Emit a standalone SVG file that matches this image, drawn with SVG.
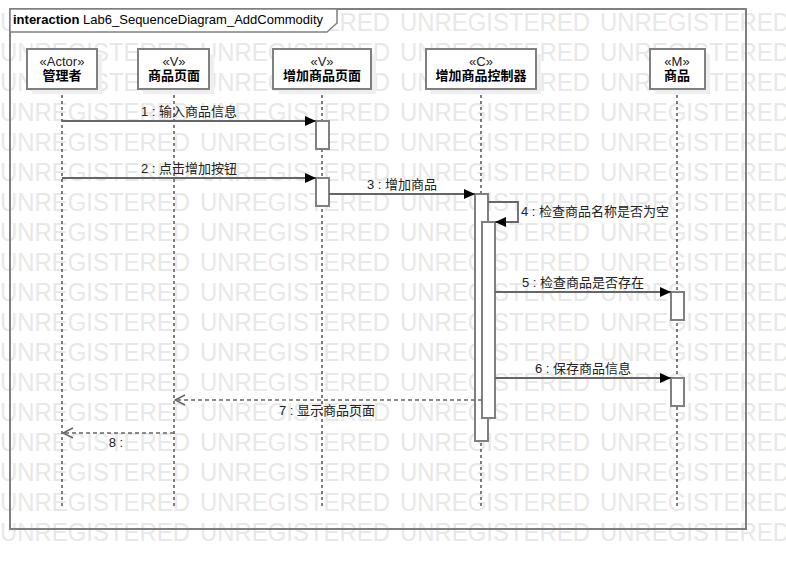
<svg xmlns="http://www.w3.org/2000/svg" xmlns:xlink="http://www.w3.org/1999/xlink" width="786" height="570" viewBox="0 0 786 570">
<style>
.wm{font-family:"Liberation Sans",Arial,sans-serif;font-size:26px;fill:#e8e8e8}
.frame{fill:none;stroke:#808080;stroke-width:2}
.tab{fill:#fff;stroke:#808080;stroke-width:1.5}
.ttl{font-family:"Liberation Sans","Noto Sans CJK SC",sans-serif;font-size:13px;fill:#000}
.box{fill:#fff;stroke:#808080;stroke-width:2}
.shadow{fill:#efefef}
.st{font-family:"Liberation Sans","Noto Sans CJK SC",sans-serif;font-size:13px;fill:#222;text-anchor:middle}
.nm{font-family:"Liberation Sans","Noto Sans CJK SC",sans-serif;font-size:13px;font-weight:bold;fill:#000;text-anchor:middle}
.life{stroke:#000;stroke-width:1;stroke-dasharray:3,3;fill:none}
.act{fill:#fff;stroke:#808080;stroke-width:2}
.msg{stroke:#666;stroke-width:1.8;fill:none}
.ret{stroke:#666;stroke-width:1.5;stroke-dasharray:4,3;fill:none}
.lbl{font-family:"Liberation Sans","Noto Sans CJK SC",sans-serif;font-size:13px;fill:#222}
.c{text-anchor:middle}
</style>
<defs>
<marker id="sync" markerWidth="12" markerHeight="10" refX="11" refY="5" orient="auto" markerUnits="userSpaceOnUse">
<path d="M0,0 L11,5 L0,10 z" fill="#000"/>
</marker>
<marker id="open" markerWidth="12" markerHeight="12" refX="11" refY="6" orient="auto" markerUnits="userSpaceOnUse">
<path d="M1,1 L11,6 L1,11" fill="none" stroke="#666" stroke-width="1.5"/>
</marker>
<g id="wmrow">
<text class="wm" x="0" y="0" textLength="190" lengthAdjust="spacingAndGlyphs">UNREGISTERED</text>
<text class="wm" x="200" y="0" textLength="190" lengthAdjust="spacingAndGlyphs">UNREGISTERED</text>
<text class="wm" x="400" y="0" textLength="190" lengthAdjust="spacingAndGlyphs">UNREGISTERED</text>
<text class="wm" x="600" y="0" textLength="190" lengthAdjust="spacingAndGlyphs">UNREGISTERED</text>
</g>
</defs>
<rect x="0" y="0" width="786" height="570" fill="#fff"/>
<g id="watermark">
<use xlink:href="#wmrow" y="31"/>
<use xlink:href="#wmrow" y="61"/>
<use xlink:href="#wmrow" y="91"/>
<use xlink:href="#wmrow" y="121"/>
<use xlink:href="#wmrow" y="151"/>
<use xlink:href="#wmrow" y="181"/>
<use xlink:href="#wmrow" y="211"/>
<use xlink:href="#wmrow" y="241"/>
<use xlink:href="#wmrow" y="271"/>
<use xlink:href="#wmrow" y="301"/>
<use xlink:href="#wmrow" y="331"/>
<use xlink:href="#wmrow" y="361"/>
<use xlink:href="#wmrow" y="391"/>
<use xlink:href="#wmrow" y="421"/>
<use xlink:href="#wmrow" y="451"/>
<use xlink:href="#wmrow" y="481"/>
<use xlink:href="#wmrow" y="511"/>
<use xlink:href="#wmrow" y="541"/>
</g>
<g id="frame">
<rect class="frame" x="10" y="9" width="736" height="520"/>
<path class="tab" d="M10,9 H337 V23 L327,32 H10 Z"/>
<text class="ttl" x="13" y="24"><tspan font-weight="bold">interaction</tspan> Lab6_SequenceDiagram_AddCommodity</text>
</g>
<g id="lifelines">
<line class="life" x1="62" y1="89" x2="62" y2="507"/>
<line class="life" x1="174" y1="89" x2="174" y2="507"/>
<line class="life" x1="322" y1="89" x2="322" y2="507"/>
<line class="life" x1="481" y1="89" x2="481" y2="507"/>
<line class="life" x1="677" y1="89" x2="677" y2="507"/>
</g>
<g id="admin">
<rect class="shadow" x="32" y="54" width="70" height="40"/>
<rect class="box" x="27" y="49" width="70" height="40"/>
<text class="st" x="62" y="66">«Actor»</text>
<text class="nm" x="62" y="80">管理者</text>
</g>
<g id="productPage">
<rect class="shadow" x="143" y="54" width="71" height="40"/>
<rect class="box" x="138" y="49" width="71" height="40"/>
<text class="st" x="174" y="66">«V»</text>
<text class="nm" x="174" y="80">商品页面</text>
</g>
<g id="addProductPage">
<rect class="shadow" x="278" y="54" width="98" height="40"/>
<rect class="box" x="273" y="49" width="98" height="40"/>
<text class="st" x="322" y="66">«V»</text>
<text class="nm" x="322" y="80">增加商品页面</text>
</g>
<g id="addProductController">
<rect class="shadow" x="431" y="54" width="110" height="40"/>
<rect class="box" x="426" y="49" width="110" height="40"/>
<text class="st" x="481" y="66">«C»</text>
<text class="nm" x="481" y="80">增加商品控制器</text>
</g>
<g id="product">
<rect class="shadow" x="655" y="54" width="55" height="40"/>
<rect class="box" x="650" y="49" width="55" height="40"/>
<text class="st" x="677" y="66">«M»</text>
<text class="nm" x="677" y="80">商品</text>
</g>
<g id="activations">
<rect class="act" x="316" y="121" width="13" height="28"/>
<rect class="act" x="316" y="178" width="13" height="28"/>
<rect class="act" x="475" y="194" width="13" height="247"/>
<rect class="act" x="482" y="222" width="13" height="196"/>
<rect class="act" x="671" y="292" width="13" height="28"/>
<rect class="act" x="671" y="378" width="13" height="28"/>
</g>
<g id="connectors">
<line class="msg" x1="62" y1="121" x2="316" y2="121" marker-end="url(#sync)"/>
<text class="lbl c" x="189" y="116">1 : 输入商品信息</text>
<line class="msg" x1="62" y1="178" x2="316" y2="178" marker-end="url(#sync)"/>
<text class="lbl c" x="189" y="173">2 : 点击增加按钮</text>
<line class="msg" x1="329" y1="194" x2="475" y2="194" marker-end="url(#sync)"/>
<text class="lbl c" x="402" y="189">3 : 增加商品</text>
<polyline class="msg" points="488,202 518,202 518,222 495,222" marker-end="url(#sync)"/>
<text class="lbl" x="521" y="216">4 : 检查商品名称是否为空</text>
<line class="msg" x1="495" y1="292" x2="671" y2="292" marker-end="url(#sync)"/>
<text class="lbl c" x="583" y="287">5 : 检查商品是否存在</text>
<line class="msg" x1="495" y1="378" x2="671" y2="378" marker-end="url(#sync)"/>
<text class="lbl c" x="583" y="373">6 : 保存商品信息</text>
<line class="ret" x1="482" y1="400" x2="175" y2="400" marker-end="url(#open)"/>
<text class="lbl c" x="327" y="415">7 : 显示商品页面</text>
<line class="ret" x1="174" y1="433" x2="63" y2="433" marker-end="url(#open)"/>
<text class="lbl c" x="116" y="447">8 :</text>
</g>
</svg>
